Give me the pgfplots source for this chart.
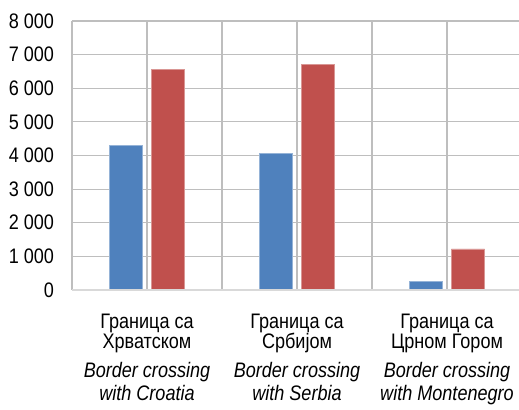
\documentclass[border=0pt]{standalone}
\usepackage{pgfplots}
\pgfplotsset{compat=1.18}
\usepackage{fontspec}
\setmainfont{Liberation Sans}[FakeStretch=0.86]
\definecolor{barblue}{RGB}{79,129,189}
\definecolor{barred}{RGB}{192,80,77}
\definecolor{gridc}{RGB}{190,190,190}
\definecolor{basec}{RGB}{217,217,217}
\begin{document}
\begin{tikzpicture}
\begin{axis}[
  scale only axis,
  width=335.25pt, height=201.75pt,
  xmin=-0.5, xmax=2.48,
  ymin=0, ymax=8000,
  ytick={0,1000,...,8000},
  xtick={0,1,2},
  minor xtick={-0.5,0.5,1.5,2.5},
  xmajorgrids, xminorgrids, ymajorgrids,
  grid style={draw=gridc, line width=0.9pt},
  minor grid style={draw=gridc, line width=0.9pt},
  axis line style={draw=none},
  major tick length=0pt, minor tick length=0pt,
  xticklabels={
    {Граница са\\Хрватском\\[7pt]\textit{Border crossing}\\[2pt]\textit{with Croatia}},
    {Граница са\\Србијом\\[7pt]\textit{Border crossing}\\[2pt]\textit{with Serbia}},
    {Граница са\\Црном Гором\\[7pt]\textit{Border crossing}\\[2pt]\textit{with Montenegro}}},
  xticklabel style={align=center, font=\fontsize{15.75}{15}\selectfont, anchor=north, yshift=-17.5pt, inner sep=0pt},
  yticklabel style={font=\fontsize{15.75}{18}\selectfont, anchor=east, xshift=-10pt},
  /pgf/number format/assume math mode=true,
  /pgf/number format/1000 sep={\ },
  ybar, bar width=0.223,
  clip=false,
]
\addplot[fill=barblue, draw=barblue!60!white, line width=0.5pt, bar shift=-0.14] coordinates {(0,4290) (1,4060) (2,250)};
\addplot[fill=barred, draw=barred!60!white, line width=0.5pt, bar shift=0.14] coordinates {(0,6570) (1,6720) (2,1220)};
\draw[basec, line width=1.5pt] (axis cs:-0.5,0) -- (axis cs:2.48,0);
\end{axis}
\pgfresetboundingbox
\path (current axis.south west) ++(-54pt,-90pt) rectangle ++(389.25pt,307.5pt);
\end{tikzpicture}
\end{document}
